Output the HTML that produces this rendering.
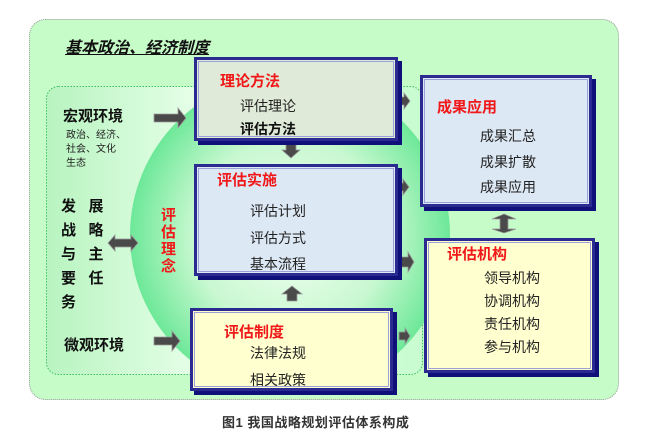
<!DOCTYPE html>
<html><head><meta charset="utf-8"><style>
body{margin:0;width:648px;height:445px;background:#fff;position:relative;overflow:hidden;font-family:"Liberation Sans","Noto Sans CJK SC",sans-serif}
.a{position:absolute}
.box{position:absolute;border:3px solid #2a2a90;outline:1px solid #9aa0d8;outline-offset:-5px;box-shadow:4px 4px 0 #10107a}
.t{position:absolute;font-size:14px;color:#222;white-space:nowrap}
.r{position:absolute;font-size:15px;font-weight:bold;color:#f01818;white-space:nowrap}
.b{font-weight:bold;color:#111}
</style></head><body>
<svg class="a" style="left:0;top:0" width="648" height="445">
<defs>
<radialGradient id="g" cx="0.5" cy="0.5" r="0.5"><stop offset="0" stop-color="#f4fff4"/><stop offset="0.6" stop-color="#c8f8d0"/><stop offset="1" stop-color="#6de898"/></radialGradient>
<linearGradient id="l" x1="0" x2="1"><stop offset="0" stop-color="#b8f4c0"/><stop offset="0.4" stop-color="#e6ffe8"/><stop offset="1" stop-color="#c8fcd0"/></linearGradient>
</defs>
<rect x="29.5" y="19.5" width="589" height="380" rx="16" fill="#c6fcc8" stroke="#8a9a8a" stroke-dasharray="1 1"/>
<rect x="46.5" y="86.5" width="376" height="288" rx="12" fill="url(#l)" stroke="#3cc060" stroke-dasharray="1.5 1.5"/>
<circle cx="290" cy="235" r="160" fill="url(#g)"/>
<g fill="#4a4a4a" stroke="#999" stroke-width="0.8">
<polygon points="154,114 178,114 178,108 186,118 178,128 178,122 154,122"/>
<polygon points="154,337 172,337 172,331 180,341 172,351 172,345 154,345"/>
<polygon points="108,243 115,235 115,239 131,239 131,235 138,243 131,251 131,247 115,247 115,251"/>
<polygon points="286,143 296,143 296,150 300,150 291,158 282,150 286,150"/>
<polygon points="287,301 297,301 297,294 302,294 292,286 282,294 287,294"/>
<polygon points="398,97 404,97 404,93 410,101 404,109 404,105 398,105"/>
<polygon points="396,183 403,183 403,179 409,187 403,195 403,191 396,191"/>
<polygon points="401,257 408,257 408,252 414,262 408,272 408,267 401,267"/>
<polygon points="399,332 405,332 405,328 410,336 405,344 405,340 399,340"/>
<polygon points="504,214 516,219 508,219 508,229 516,229 504,233 492,229 500,229 500,219 492,219"/>
</g>
</svg>
<div class="a" style="left:65px;top:34px;font-size:16px;font-weight:bold;font-style:italic;text-decoration:underline;color:#111">基本政治、经济制度</div>
<div class="box" style="left:194px;top:57px;width:198px;height:78px;background:#e0ead8"></div>
<div class="box" style="left:194px;top:164px;width:198px;height:106px;background:#dde8f5"></div>
<div class="box" style="left:190px;top:308px;width:197px;height:77px;background:#ffffd0"></div>
<div class="box" style="left:420px;top:75px;width:166px;height:126px;background:#dde8f5"></div>
<div class="box" style="left:424px;top:238px;width:165px;height:129px;background:#ffffd0"></div>
<div class="r" style="left:220px;top:70px">理论方法</div>
<div class="t" style="left:240px;top:96px">评估理论</div>
<div class="t b" style="left:240px;top:119px">评估方法</div>
<div class="r" style="left:217px;top:169px">评估实施</div>
<div class="t" style="left:250px;top:201px">评估计划</div>
<div class="t" style="left:250px;top:228px">评估方式</div>
<div class="t" style="left:250px;top:254px">基本流程</div>
<div class="r" style="left:224px;top:321px">评估制度</div>
<div class="t" style="left:250px;top:343px">法律法规</div>
<div class="t" style="left:250px;top:370px">相关政策</div>
<div class="r" style="left:437px;top:96px">成果应用</div>
<div class="t" style="left:480px;top:126px">成果汇总</div>
<div class="t" style="left:480px;top:152px">成果扩散</div>
<div class="t" style="left:480px;top:177px">成果应用</div>
<div class="r" style="left:447px;top:243px">评估机构</div>
<div class="t" style="left:484px;top:268px">领导机构</div>
<div class="t" style="left:484px;top:291px">协调机构</div>
<div class="t" style="left:484px;top:314px">责任机构</div>
<div class="t" style="left:484px;top:337px">参与机构</div>
<div class="r" style="left:161px;top:207px;font-size:15px;line-height:17px;width:16px;white-space:normal">评估理念</div>
<div class="a b" style="left:63px;top:105px;font-size:15px">宏观环境</div>
<div class="a" style="left:66px;top:129px;font-size:10px;line-height:14px;color:#222">政治、经济、<br>社会、文化<br>生态</div>
<div class="a b" style="left:61px;top:195px;font-size:15px;line-height:24px">发&nbsp;&nbsp;&nbsp;展<br>战&nbsp;&nbsp;&nbsp;略<br>与&nbsp;&nbsp;&nbsp;主<br>要&nbsp;&nbsp;&nbsp;任<br>务</div>
<div class="a b" style="left:64px;top:334px;font-size:15px">微观环境</div>
<div class="a" style="left:222px;top:412px;font-size:13px;font-weight:bold;color:#333;letter-spacing:0.5px">图1 我国战略规划评估体系构成</div>
</body></html>
